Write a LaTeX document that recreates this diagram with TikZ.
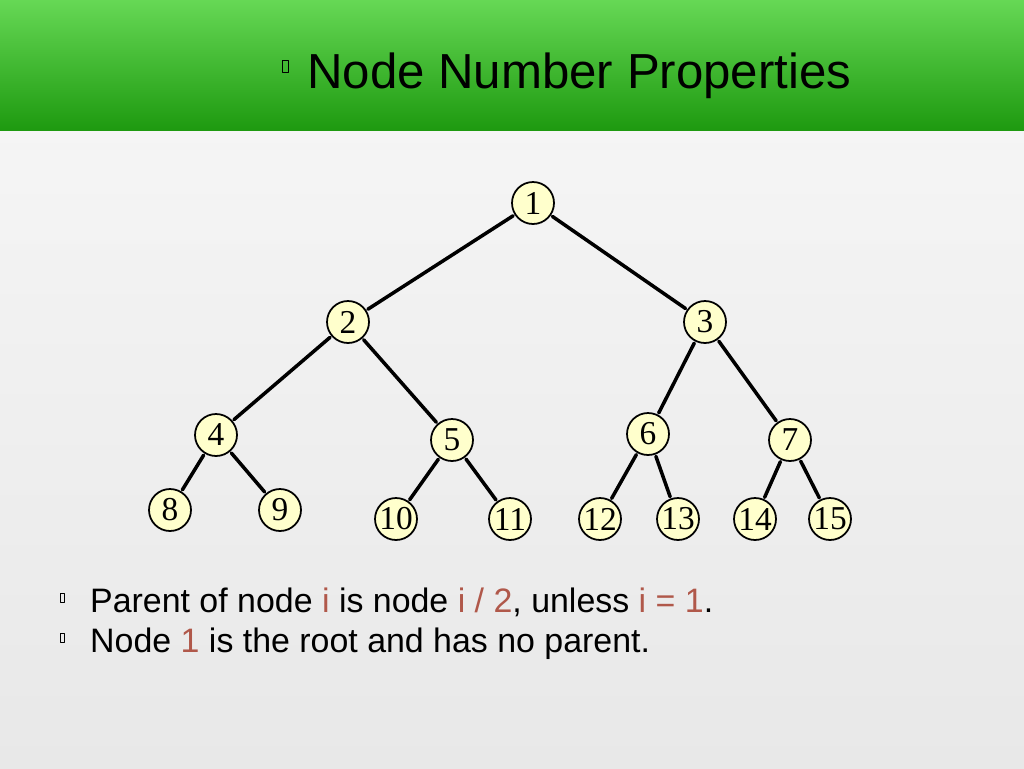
\documentclass[tikz,border=0pt]{standalone}
\usepackage{fontspec}
\setmainfont{Liberation Sans}
\newfontfamily\treefont{Liberation Serif}
\usetikzlibrary{arrows}
\definecolor{hdrtop}{HTML}{66D855}
\definecolor{hdrbot}{HTML}{1E9A10}
\definecolor{nodefill}{HTML}{FFFFCC}
\definecolor{varred}{HTML}{B0584A}
\tikzset{
  tnode/.style={circle,draw=black,line width=1pt,fill=nodefill,minimum size=0.84cm,inner sep=0pt,font=\treefont\fontsize{19}{19}\selectfont},
  tedge/.style={line width=2pt,shorten <=1pt,shorten >=1pt},
  nobox/.style={draw=black,line width=0.3pt,minimum width=0.12cm,minimum height=0.24cm,inner sep=0pt}
}
\begin{document}
\begin{tikzpicture}[line cap=round,line join=round,x=0.02cm,y=-0.02cm]
\useasboundingbox (0,0) rectangle (1024,768);
\shade[top color=black!4,bottom color=black!9] (0,128) rectangle (1024,768);
\shade[top color=hdrtop,bottom color=hdrbot] (0,0) rectangle (1024,130);
\node[nobox] (tb) at (285,66) {};
\node[anchor=base west,font=\fontsize{28}{28}\selectfont] (title) at (301,88) {Node Number Properties};
% tree
\node[tnode] (n1) at (533,203) {1};
\node[tnode] (n2) at (348,322) {2};
\node[tnode] (n3) at (705,322) {3};
\node[tnode] (n4) at (216,435) {4};
\node[tnode] (n5) at (452,440) {5};
\node[tnode] (n6) at (648,434) {6};
\node[tnode] (n7) at (790,440) {7};
\node[tnode] (n8) at (170,510) {8};
\node[tnode] (n9) at (280,510) {9};
\node[tnode] (n10) at (396,519) {10};
\node[tnode] (n11) at (510,519) {11};
\node[tnode] (n12) at (600,519) {12};
\node[tnode] (n13) at (678,519) {13};
\node[tnode] (n14) at (755,519) {14};
\node[tnode] (n15) at (830,519) {15};
\foreach \a/\b in {1/2,1/3,2/4,2/5,3/6,3/7,4/8,4/9,5/10,5/11,6/12,6/13,7/14,7/15}
  \draw[tedge] (n\a) -- (n\b);
% text
\node[nobox,minimum width=0.08cm,minimum height=0.18cm] (b1) at (62,598) {};
\node[nobox,minimum width=0.08cm,minimum height=0.18cm] (b2) at (62,638) {};
\node[anchor=base west,font=\fontsize{19.3}{19}\selectfont] (l1) at (84,612)
  {Parent of node \textcolor{varred}{i} is node \textcolor{varred}{i / 2}, unless \textcolor{varred}{i = 1}.};
\node[anchor=base west,font=\fontsize{19.3}{19}\selectfont] (l2) at (84,652)
  {Node \textcolor{varred}{1} is the root and has no parent.};
\end{tikzpicture}
\end{document}
